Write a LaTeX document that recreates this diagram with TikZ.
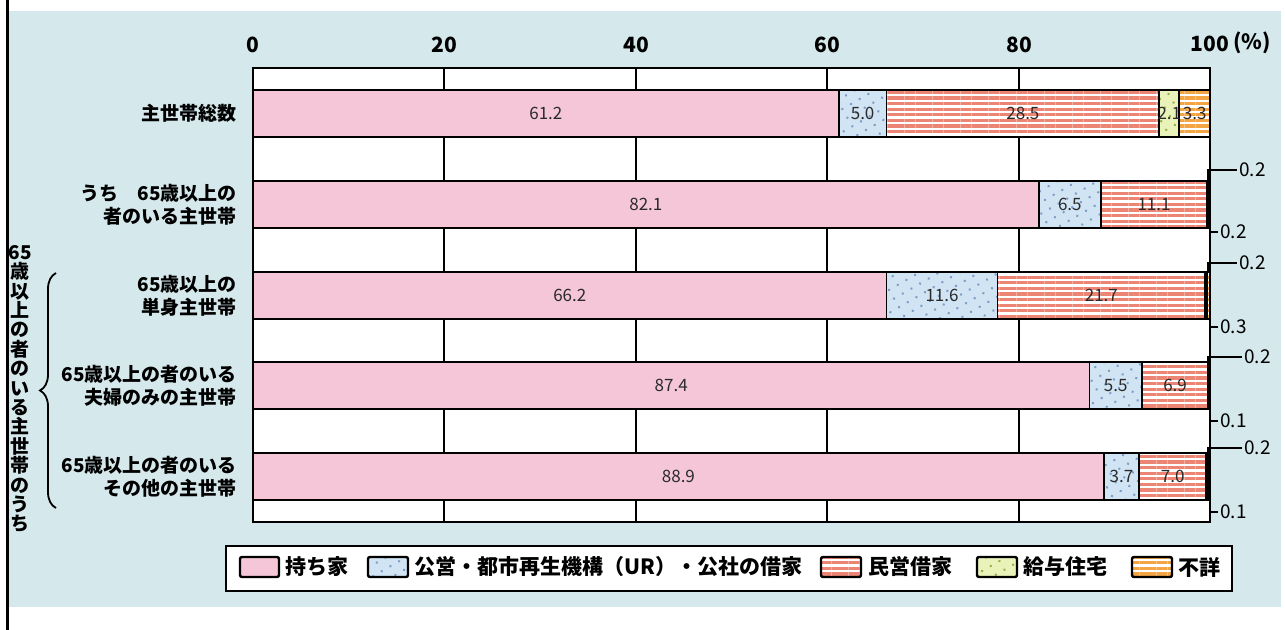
\documentclass[tikz,border=0pt]{standalone}
\usepackage{fontspec}
\setmainfont{Noto Sans CJK JP}
\usetikzlibrary{patterns.meta,decorations.pathreplacing}
\definecolor{bgblue}{HTML}{D5E8EC}
\definecolor{ownpink}{HTML}{F4C6D7}
\definecolor{pubblue}{HTML}{D0E4F4}
\definecolor{pubdot}{HTML}{7F9CC4}
\definecolor{rentred}{HTML}{EC8574}
\definecolor{empyel}{HTML}{E9F2B8}
\definecolor{empdot}{HTML}{93B04E}
\definecolor{unkorg}{HTML}{F3A443}
\definecolor{valgray}{HTML}{2A2A2A}

\begin{document}
\begin{tikzpicture}[
  x=0.5pt, y=-0.5pt,
  seg/.style = {draw=black, line width=0.9pt},
  own/.style = {seg, fill=ownpink},
  pub/.style = {seg, preaction={fill=pubblue},
    preaction={pattern={Dots[distance=5pt,radius=0.7pt,angle=30]}, pattern color=pubdot}},
  rent/.style = {seg, preaction={fill=white},
    preaction={pattern={Lines[angle=0,distance=2.8pt,line width=1.6pt]}, pattern color=rentred}},
  emp/.style = {seg, preaction={fill=empyel},
    preaction={pattern={Dots[distance=5pt,radius=0.7pt,angle=30]}, pattern color=empdot}},
  unk/.style = {seg, preaction={fill=white},
    preaction={pattern={Lines[angle=0,distance=2.8pt,line width=1.6pt]}, pattern color=unkorg}},
  val/.style = {inner sep=0pt, text=valgray, font=\fontsize{8.5}{10}\selectfont},
  tick/.style = {inner sep=0pt, font=\fontsize{10.5}{12}\selectfont\bfseries},
  cat/.style = {anchor=east, align=right, inner sep=0pt, font=\fontsize{9.5}{11.5}\selectfont\bfseries},
  small/.style = {anchor=west, inner sep=1pt, font=\fontsize{9.5}{11}\selectfont},
  legtext/.style = {anchor=west, inner sep=0pt, font=\fontsize{10.5}{12}\selectfont\bfseries},
  swatch/.style = {line width=1.2pt, rounded corners=1pt}
]
\useasboundingbox (0,0) rectangle (1285,630);
\fill[bgblue] (9,11) rectangle (1281,607);
\draw[line width=1.5pt] (7.5,0) -- (7.5,630);

% axis labels
\node[tick] (t0) at (253,45) {0};
\node[tick] (t20) at (444,45) {20};
\node[tick] (t40) at (636,45) {40};
\node[tick] (t60) at (827,45) {60};
\node[tick] (t80) at (1019,45) {80};
\node[tick] (t100) at (1210,44) {100};
\node[tick, anchor=west] (tpct) at (1233,43) {(\%)};

% frame and grid
\draw[fill=white, line width=1pt] (253,68) rectangle (1210,522);
\draw[line width=1pt] (444,68) -- (444,522) (636,68) -- (636,522)
  (827,68) -- (827,522) (1019,68) -- (1019,522);

% bars, in percent
\begin{scope}[shift={(253,0)}, x=4.785pt]
  \draw[own] (0,90) rectangle (61.2,137);
  \draw[pub] (61.2,90) rectangle (66.2,137);
  \draw[rent] (66.2,90) rectangle (94.7,137);
  \draw[emp] (94.7,90) rectangle (96.8,137);
  \draw[unk] (96.8,90) rectangle (100,137);
  \node[val] (v11) at (30.6,113.5) {61.2};
  \node[val] (v12) at (63.7,113.5) {5.0};
  \node[val] (v13) at (80.45,113.5) {28.5};
  \node[val] (v14) at (95.75,113.5) {2.1};
  \node[val] (v15) at (98.4,113.5) {3.3};

  \draw[own] (0,181) rectangle (82.1,228);
  \draw[pub] (82.1,181) rectangle (88.6,228);
  \draw[rent] (88.6,181) rectangle (99.7,228);
  \draw[emp] (99.7,181) rectangle (99.9,228);
  \draw[unk] (99.9,181) rectangle (100,228);
  \node[val] (v21) at (41.05,204.5) {82.1};
  \node[val] (v22) at (85.35,204.5) {6.5};
  \node[val] (v23) at (94.15,204.5) {11.1};

  \draw[own] (0,272) rectangle (66.2,319);
  \draw[pub] (66.2,272) rectangle (77.8,319);
  \draw[rent] (77.8,272) rectangle (99.5,319);
  \draw[emp] (99.5,272) rectangle (99.7,319);
  \draw[unk] (99.7,272) rectangle (100,319);
  \node[val] (v31) at (33.1,295.5) {66.2};
  \node[val] (v32) at (72.0,295.5) {11.6};
  \node[val] (v33) at (88.65,295.5) {21.7};

  \draw[own] (0,362) rectangle (87.4,409);
  \draw[pub] (87.4,362) rectangle (92.9,409);
  \draw[rent] (92.9,362) rectangle (99.8,409);
  \draw[emp] (99.8,362) rectangle (99.95,409);
  \draw[unk] (99.95,362) rectangle (100,409);
  \node[val] (v41) at (43.7,385.5) {87.4};
  \node[val] (v42) at (90.15,385.5) {5.5};
  \node[val] (v43) at (96.35,385.5) {6.9};

  \draw[own] (0,453) rectangle (88.9,500);
  \draw[pub] (88.9,453) rectangle (92.6,500);
  \draw[rent] (92.6,453) rectangle (99.6,500);
  \draw[emp] (99.6,453) rectangle (99.8,500);
  \draw[unk] (99.8,453) rectangle (99.95,500);
  \node[val] (v51) at (44.45,476.5) {88.9};
  \node[val] (v52) at (90.75,476.5) {3.7};
  \node[val] (v53) at (96.1,476.5) {7.0};
\end{scope}

% small values beside the bars
\coordinate (a2) at (1208,181);
\coordinate (a3) at (1208,272);
\coordinate (a4) at (1208,362);
\coordinate (a5) at (1208,453);
\coordinate (z2) at (1210,228);
\coordinate (z3) at (1210,319);
\coordinate (z4) at (1210,409);
\coordinate (z5) at (1210,500);
\node[small] (up2) at (1237,170) {0.2};
\node[small] (up3) at (1237,263) {0.2};
\node[small] (up4) at (1242,357) {0.2};
\node[small] (up5) at (1242,448) {0.2};
\node[small] (lo2) at (1218,232) {0.2};
\node[small] (lo3) at (1218,327) {0.3};
\node[small] (lo4) at (1218,421) {0.1};
\node[small] (lo5) at (1218,512) {0.1};
\draw[line width=0.9pt] (a2) |- (up2.west) (a3) |- (up3.west)
  (a4) |- (up4.west) (a5) |- (up5.west);
\draw[line width=0.9pt] (z2) |- (lo2.west) (z3) |- (lo3.west)
  (z4) |- (lo4.west) (z5) |- (lo5.west);

% category labels
\node[cat] (c1) at (237,113.5) {主世帯総数};
\node[cat] (c2) at (237,204.5) {うち　65歳以上の\\者のいる主世帯};
\node[cat] (c3) at (237,295.5) {65歳以上の\\単身主世帯};
\node[cat] (c4) at (237,386) {65歳以上の者のいる\\夫婦のみの主世帯};
\node[cat] (c5) at (237,477) {65歳以上の者のいる\\その他の主世帯};

\node[align=center, inner sep=0pt, font=\fontsize{9.5}{9.7}\selectfont\bfseries] (side) at (20,389)
  {65\\歳\\以\\上\\の\\者\\の\\い\\る\\主\\世\\帯\\の\\う\\ち};
\draw[line width=0.9pt, decorate, decoration={brace, amplitude=8pt}] (56,508) -- (56,273);

% legend
\draw[fill=white, line width=1.2pt] (226,546) rectangle (1232,591);
\draw[own, swatch] (240,557) rectangle (279,577);
\node[legtext] (k1) at (285,567) {持ち家};
\draw[pub, swatch] (368,557) rectangle (408,577);
\node[legtext] (k2) at (414,567) {公営・都市再生機構（UR）・公社の借家};
\draw[rent, swatch] (821,557) rectangle (861,577);
\node[legtext] (k3) at (868,567) {民営借家};
\draw[emp, swatch] (977,557) rectangle (1017,577);
\node[legtext] (k4) at (1023,567) {給与住宅};
\draw[unk, swatch] (1132,557) rectangle (1172,577);
\node[legtext] (k5) at (1178,567) {不詳};
\end{tikzpicture}
\end{document}
